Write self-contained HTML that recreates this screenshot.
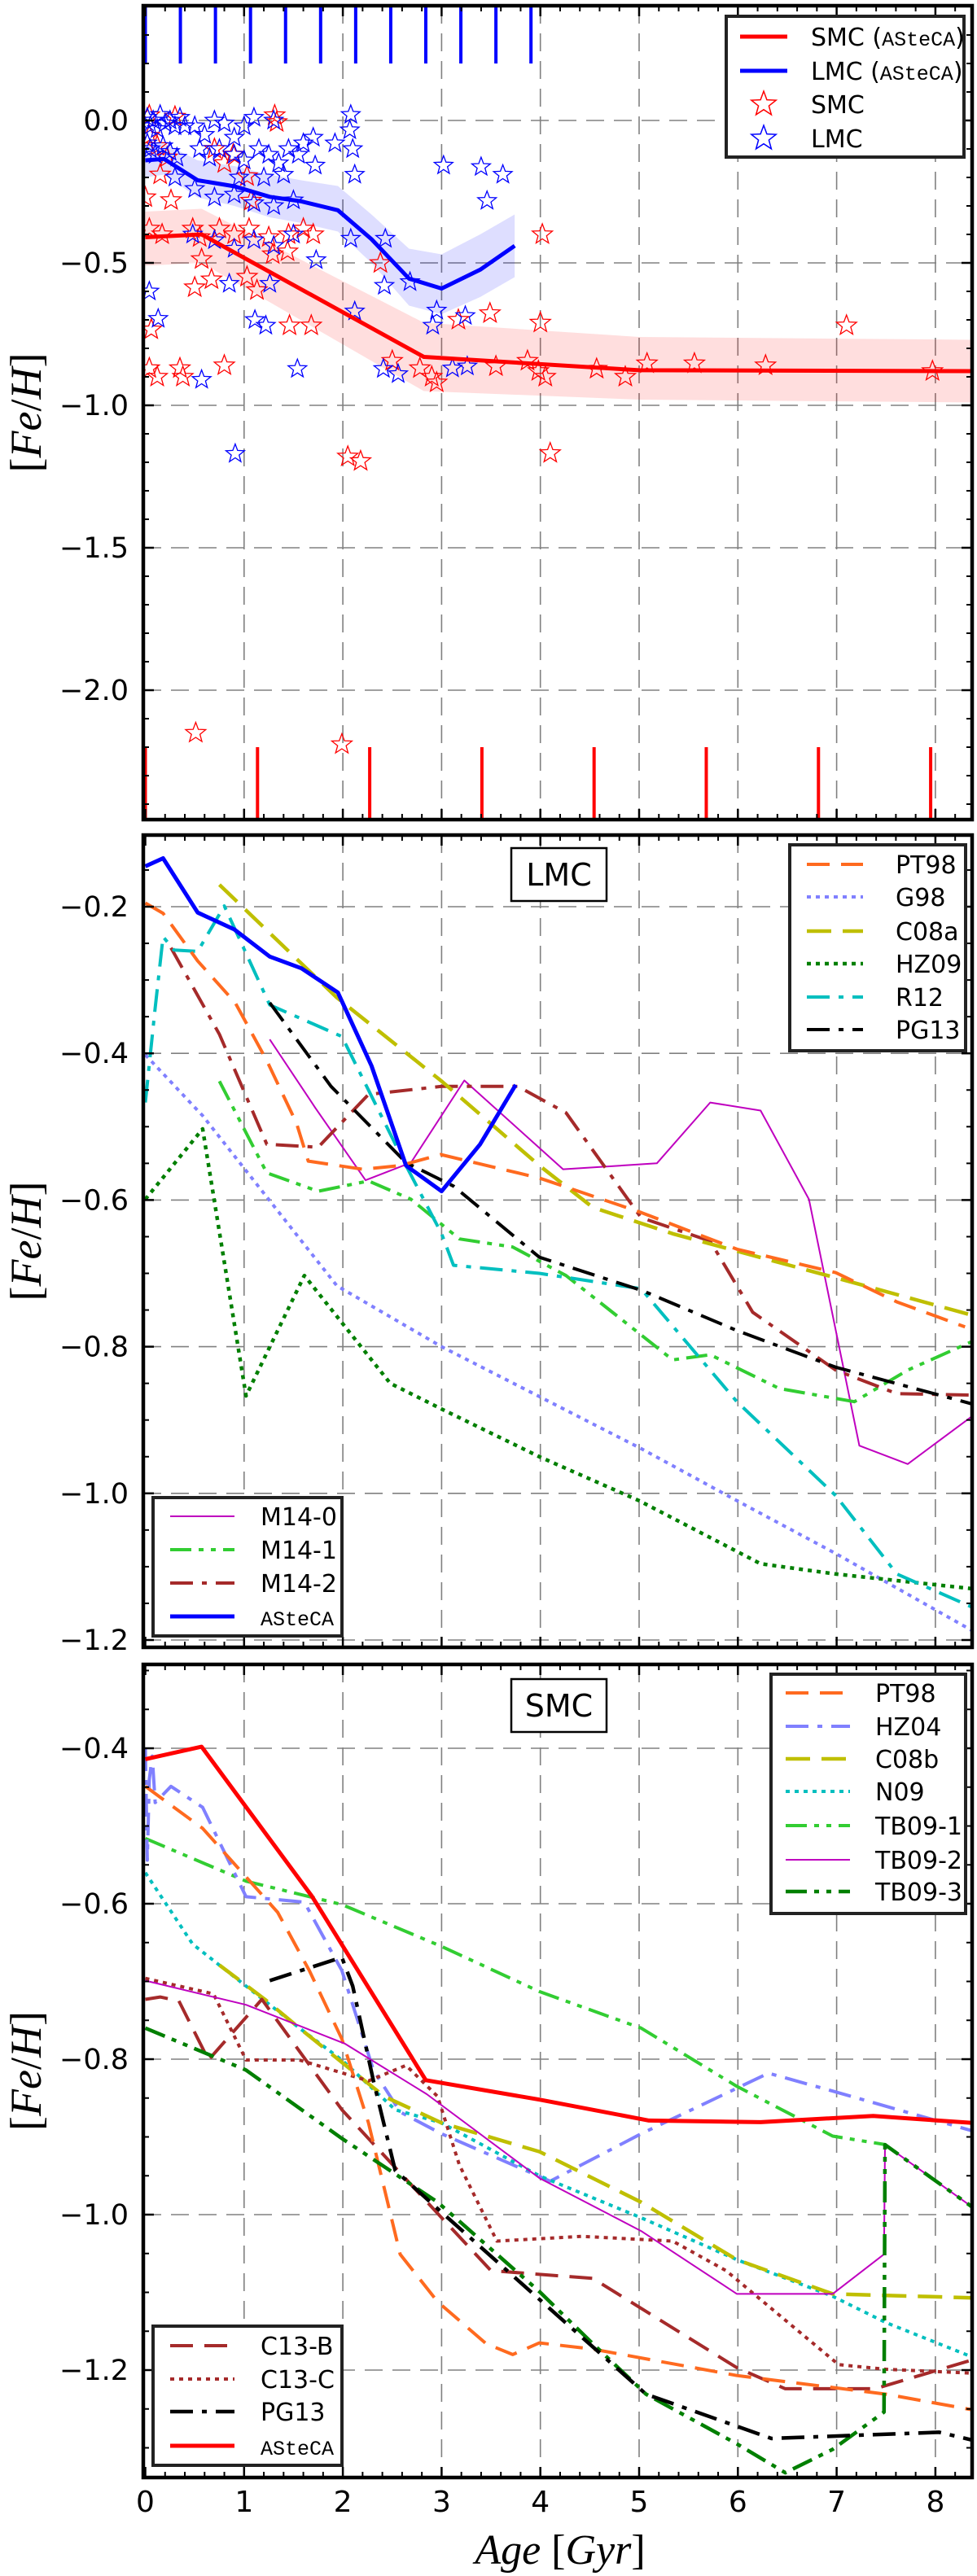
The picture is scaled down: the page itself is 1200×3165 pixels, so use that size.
<!DOCTYPE html>
<html><head><meta charset="utf-8">
<style>
html,body{margin:0;padding:0;background:#fff;}
svg{display:block;}
text{font-family:"DejaVu Sans","Liberation Sans",sans-serif;}
.mono{font-family:"Liberation Mono","DejaVu Sans Mono",monospace;}
.math{font-family:"Liberation Serif","DejaVu Serif",serif;}
</style></head>
<body>
<svg id="chart" xmlns="http://www.w3.org/2000/svg" width="1200" height="3165" viewBox="0 0 1200 3165">
<defs>
<clipPath id="clip1"><rect x="176" y="7" width="1018" height="1000"/></clipPath>
<clipPath id="clip2"><rect x="176" y="1026" width="1018" height="998"/></clipPath>
<clipPath id="clip3"><rect x="176" y="2045" width="1018" height="999"/></clipPath>
</defs>
</svg>
<script>
// ---------- Panel 1 data ----------
const smcAstecaAge=[0,0.57,2.82,5.0,8.4];
const smcAstecaFe=[-0.41,-0.40,-0.83,-0.877,-0.88];
const smcBandAge=[0,0.57,2.82,5.0,8.4];
const smcBandHi=[-0.32,-0.31,-0.71,-0.76,-0.77];
const smcBandLo=[-0.51,-0.50,-0.95,-0.98,-0.99];
const lmcAstecaAge=[0,0.19,0.53,0.9,1.26,1.58,1.95,2.29,2.67,3.0,3.39,3.74];
const lmcAstecaFe=[-0.14,-0.135,-0.21,-0.231,-0.268,-0.284,-0.315,-0.417,-0.555,-0.59,-0.524,-0.44];
const lmcBandHi=[-0.08,-0.08,-0.14,-0.16,-0.19,-0.21,-0.23,-0.33,-0.45,-0.47,-0.40,-0.33];
const lmcBandLo=[-0.20,-0.19,-0.27,-0.30,-0.34,-0.36,-0.39,-0.50,-0.65,-0.68,-0.62,-0.55];
const lmcStarAge=[0.02,0.05,0.08,0.12,0.15,0.2,0.25,0.3,0.35,0.4,0.05,0.1,0.18,0.25,0.32,0.02,
0.5,0.6,0.7,0.8,1.0,1.1,1.3,0.9,0.55,0.65,0.75,0.9,1.0,1.15,1.25,1.35,1.45,1.55,1.4,1.6,1.2,0.95,1.7,1.92,2.08,2.07,2.1,2.12,1.72,
3.02,3.4,3.62,3.46,0.3,0.5,0.7,0.9,1.1,1.3,1.5,0.48,0.7,0.9,1.1,1.3,1.5,1.73,2.08,2.43,2.42,2.68,0.04,0.13,0.85,1.26,1.11,1.22,
2.12,2.95,2.91,3.24,1.54,0.57,2.41,2.56,3.11,3.26,0.91];
const lmcStarFe=[0.01,-0.02,0.0,-0.03,0.02,-0.01,0.0,-0.02,0.01,-0.02,-0.1,-0.12,-0.09,-0.11,-0.13,-0.08,
-0.02,-0.05,0.0,-0.01,-0.02,0.01,0.0,-0.06,-0.1,-0.13,-0.1,-0.12,-0.14,-0.1,-0.12,-0.15,-0.1,-0.12,-0.19,-0.08,-0.2,-0.2,-0.06,-0.08,0.02,-0.034,-0.1,-0.19,-0.158,
-0.158,-0.163,-0.19,-0.282,-0.2,-0.24,-0.27,-0.26,-0.29,-0.3,-0.28,-0.4,-0.42,-0.45,-0.42,-0.44,-0.4,-0.49,-0.415,-0.415,-0.58,-0.567,-0.6,-0.696,-0.573,-0.573,-0.70,-0.72,
-0.67,-0.667,-0.72,-0.686,-0.872,-0.91,-0.872,-0.89,-0.87,-0.863,-1.17];
const smcStarAge=[1.31,1.33,0.04,0.3,0.04,0.12,0.22,0.7,0.8,0.89,0.0,0.15,0.26,1.03,1.07,
0.04,0.17,0.48,0.55,0.75,0.9,1.05,1.25,1.45,1.6,1.7,0.57,1.29,1.44,0.5,0.67,1.03,1.13,2.38,
4.02,4.0,3.49,3.17,0.06,1.46,1.68,0.04,0.12,0.35,0.38,0.8,2.5,2.78,2.9,2.95,3.55,3.87,3.98,4.05,4.57,4.86,5.08,5.56,6.28,7.1,7.97,
2.05,2.18,4.1,0.51,1.99];
const smcStarFe=[0.018,-0.006,0.018,0.013,-0.054,-0.09,-0.13,-0.1,-0.15,-0.12,-0.27,-0.19,-0.28,-0.196,-0.282,
-0.38,-0.4,-0.38,-0.41,-0.38,-0.4,-0.38,-0.41,-0.4,-0.38,-0.4,-0.487,-0.47,-0.46,-0.586,-0.558,-0.549,-0.596,-0.501,
-0.4,-0.71,-0.677,-0.7,-0.734,-0.72,-0.72,-0.87,-0.9,-0.87,-0.9,-0.86,-0.844,-0.87,-0.9,-0.92,-0.863,-0.844,-0.88,-0.9,-0.872,-0.9,-0.853,-0.853,-0.86,-0.72,-0.88,
-1.18,-1.196,-1.168,-2.15,-2.19];
const lmcRugAges=[0,0.355,0.71,1.065,1.42,1.775,2.13,2.485,2.84,3.195,3.55,3.905];
const smcRugAges=[0,1.136,2.272,3.408,4.544,5.68,6.816,7.952];

// ---------- Panel 2 (LMC) data ----------
const p2AstecaAge=[0,0.18,0.53,0.9,1.26,1.58,1.95,2.29,2.64,3.0,3.39,3.75];
const p2AstecaFe=[-0.145,-0.134,-0.208,-0.231,-0.268,-0.284,-0.317,-0.417,-0.553,-0.588,-0.524,-0.443];
const pt98LAge=[0,0.18,0.53,0.91,1.23,1.53,1.65,2.2,2.58,2.99,3.99,5.02,5.99,6.99,7.61,8.3];
const pt98LFe=[-0.195,-0.209,-0.274,-0.331,-0.41,-0.495,-0.547,-0.558,-0.553,-0.538,-0.57,-0.617,-0.667,-0.699,-0.739,-0.773];
const g98Age=[0,0.58,1.02,1.94,3.0,3.99,5.02,5.99,6.99,8.37];
const g98Fe=[-0.402,-0.485,-0.56,-0.717,-0.8,-0.868,-0.939,-1.01,-1.082,-1.187];
const c08aAge=[0.75,1.94,3.0,3.99,4.53,5.34,6.99,8.37];
const c08aFe=[-0.17,-0.324,-0.438,-0.553,-0.61,-0.646,-0.706,-0.757];
const hz09Age=[0,0.58,1.02,1.61,2.48,3.0,3.99,5.0,6.23,6.99,8.37];
const hz09Fe=[-0.599,-0.503,-0.867,-0.703,-0.85,-0.885,-0.95,-1.01,-1.096,-1.11,-1.13];
const r12Age=[0,0.1,0.18,0.29,0.53,0.8,1.26,1.99,2.64,3.0,3.12,3.99,5.02,5.99,6.99,7.61,8.37];
const r12Fe=[-0.467,-0.338,-0.241,-0.259,-0.261,-0.199,-0.334,-0.377,-0.553,-0.646,-0.689,-0.7,-0.721,-0.875,-1.003,-1.11,-1.155];
const pg13LAge=[1.26,1.88,2.64,3.12,3.99,5.04,5.99,6.99,8.37];
const pg13LFe=[-0.331,-0.445,-0.549,-0.581,-0.678,-0.724,-0.778,-0.828,-0.878];
const m140Age=[1.26,1.72,2.23,2.69,3.23,4.23,5.18,5.72,6.23,6.72,7.23,7.72,8.37];
const m140Fe=[-0.381,-0.474,-0.573,-0.549,-0.437,-0.558,-0.55,-0.467,-0.478,-0.599,-0.935,-0.96,-0.895];
const m141Age=[0.75,1.23,1.75,2.26,2.69,3.18,3.72,4.26,5.34,5.72,6.42,7.18,7.72,8.37];
const m141Fe=[-0.438,-0.563,-0.588,-0.574,-0.599,-0.653,-0.664,-0.703,-0.818,-0.811,-0.857,-0.875,-0.832,-0.793];
const m142Age=[0.26,0.75,1.23,1.75,2.26,3.0,3.77,4.26,5.02,5.72,6.15,6.99,7.61,8.37];
const m142Fe=[-0.256,-0.374,-0.524,-0.528,-0.456,-0.445,-0.445,-0.481,-0.624,-0.656,-0.753,-0.832,-0.864,-0.866];

// ---------- Panel 3 (SMC) data ----------
const p3AstecaAge=[0,0.57,1.69,2.84,3.99,5.1,6.23,7.37,8.37];
const p3AstecaFe=[-0.414,-0.398,-0.591,-0.827,-0.852,-0.879,-0.881,-0.873,-0.882];
const pt98SAge=[0,0.58,0.96,1.34,1.66,1.99,2.26,2.58,2.96,3.45,3.72,3.99,4.53,5.99,7.5,8.37];
const pt98SFe=[-0.449,-0.503,-0.557,-0.611,-0.686,-0.774,-0.882,-1.051,-1.112,-1.166,-1.18,-1.165,-1.173,-1.207,-1.231,-1.251];
const hz04Age=[0,0.02,0.04,0.07,0.1,0.26,0.58,1.02,1.61,1.99,2.31,2.58,3.0,4.1,5.02,6.31,6.96,8.37];
const hz04Fe=[-0.40,-0.544,-0.44,-0.41,-0.47,-0.449,-0.476,-0.591,-0.598,-0.686,-0.814,-0.868,-0.896,-0.957,-0.896,-0.818,-0.841,-0.892];
const c08bAge=[0.75,1.21,1.56,2.42,3.0,3.99,5.02,5.99,6.96,8.37];
const c08bFe=[-0.679,-0.723,-0.76,-0.848,-0.882,-0.919,-0.984,-1.058,-1.102,-1.107];
const n09Age=[0,0.48,1.02,1.56,1.99,2.53,3.0,3.99,5.02,5.99,6.96,7.5,8.37];
const n09Fe=[-0.56,-0.652,-0.706,-0.76,-0.801,-0.865,-0.882,-0.95,-1.004,-1.058,-1.105,-1.139,-1.183];
const tb091Age=[0,1.02,1.99,3.0,3.99,5.02,5.99,6.96,7.5];
const tb091Fe=[-0.516,-0.571,-0.601,-0.655,-0.713,-0.76,-0.835,-0.899,-0.91];
const tb092Age=[0,1.02,2.02,2.85,3.99,5.02,5.99,6.96,7.48,7.49,8.37];
const tb092Fe=[-0.699,-0.73,-0.78,-0.845,-0.953,-1.021,-1.102,-1.102,-1.051,-0.91,-0.99];
const tb093Age=[0,1.02,1.99,2.96,3.99,4.53,5.07,5.99,6.48,6.96,7.48,7.49,8.37];
const tb093Fe=[-0.76,-0.814,-0.902,-0.984,-1.099,-1.166,-1.231,-1.295,-1.332,-1.302,-1.254,-0.91,-0.99];
const pg13SAge=[1.26,1.99,2.1,2.31,2.53,3.0,3.99,5.07,6.34,6.96,8.04,8.37];
const pg13SFe=[-0.699,-0.669,-0.706,-0.828,-0.943,-0.997,-1.109,-1.231,-1.288,-1.285,-1.28,-1.29];
const c13bAge=[0,0.15,0.34,0.64,1.18,1.99,3.0,3.5,4.53,5.99,6.48,7.39,8.37];
const c13bFe=[-0.723,-0.72,-0.725,-0.801,-0.723,-0.865,-1.004,-1.072,-1.082,-1.197,-1.224,-1.224,-1.187];
const c13cAge=[0,0.69,1.02,1.56,2.26,2.64,2.96,3.18,3.56,4.42,5.34,5.88,7.02,7.5,8.37];
const c13cFe=[-0.696,-0.716,-0.801,-0.801,-0.828,-0.808,-0.848,-0.936,-1.034,-1.028,-1.034,-1.072,-1.193,-1.199,-1.204];

const xTickLabels=["0","1","2","3","4","5","6","7","8"];
const p1YTicks=[0.0,-0.5,-1.0,-1.5,-2.0];
const p2YTicks=[-0.2,-0.4,-0.6,-0.8,-1.0,-1.2];
const p3YTicks=[-0.4,-0.6,-0.8,-1.0,-1.2];

// ---------- rendering ----------
const NS='http://www.w3.org/2000/svg';
const svg=document.getElementById('chart');
function mk(tag,attrs,parent){const e=document.createElementNS(NS,tag);for(const k in attrs)e.setAttribute(k,attrs[k]);(parent||svg).appendChild(e);return e;}
const X=v=>178.5+v*121.3;
const L=176,R=1194;
const panels=[
 {top:7,bottom:1007,y:v=>148-v*350,vmin:-2.454,vmax:0.403,minor:0.1,ticks:p1YTicks,clip:'clip1'},
 {top:1026,bottom:2024,y:v=>1114-(v+0.2)*901,vmin:-1.21,vmax:-0.102,minor:0.05,ticks:p2YTicks,clip:'clip2'},
 {top:2045,bottom:3044,y:v=>2148-(v+0.4)*955,vmin:-1.338,vmax:-0.292,minor:0.05,ticks:p3YTicks,clip:'clip3'}
];
function fmt(v){let s=v.toFixed(1);if(v<0)s='\u2212'+s.slice(1);if(Math.abs(v)<1e-9)s='0.0';return s;}
function pathD(ages,fes,y){return ages.map((a,i)=>(i?'L':'M')+X(a).toFixed(1)+','+y(fes[i]).toFixed(1)).join(' ');}

panels.forEach((p,pi)=>{
  const g=mk('g',{});
  
  
  const grid=mk('g',{stroke:'#808080','stroke-width':1.6,'stroke-dasharray':'22,12'},g);
  
  
  for(let k=1;k<=8;k++){mk('line',{x1:X(k),x2:X(k),y1:p.top,y2:p.bottom},grid);}
  p.ticks.forEach(t=>{mk('line',{x1:L,x2:R,y1:p.y(t),y2:p.y(t)},grid);});
  p.g=g;
});

function series(p,ages,fes,color,width,dash,name){
  const e=mk('path',{d:pathD(ages,fes,p.y),fill:'none',stroke:color,'stroke-width':width,'stroke-linejoin':'round','clip-path':'url(#'+p.clip+')'},p.g);
  if(dash)e.setAttribute('stroke-dasharray',dash);
  
  
  return e;
}
function band(p,ages,hi,lo,color,name){
  const pts=ages.map((a,i)=>X(a)+','+p.y(hi[i])).concat(ages.slice().reverse().map((a,i)=>X(a)+','+p.y(lo[ages.length-1-i])));
  const e=mk('polygon',{points:pts.join(' '),fill:color,stroke:'none','clip-path':'url(#'+p.clip+')'},p.g);
  
  
}
function starPts(cx,cy,r){let s=[];for(let i=0;i<10;i++){const rr=i%2?r*0.42:r;const a=-Math.PI/2+i*Math.PI/5;s.push((cx+rr*Math.cos(a)).toFixed(1)+','+(cy+rr*Math.sin(a)).toFixed(1));}return s.join(' ');}

const DASH='28,14', DOT='5,6', DD='28,11,6,11', DDD='26,9,6,9,6,9';
// Panel 1
const P1=panels[0];
band(P1,smcBandAge,smcBandHi,smcBandLo,'rgba(255,0,0,0.13)','smc-uncertainty-band');
band(P1,lmcAstecaAge,lmcBandHi,lmcBandLo,'rgba(0,0,255,0.13)','lmc-uncertainty-band');
const sg=mk('g',{fill:'none','stroke-width':1.3,'clip-path':'url(#clip1)'},P1.g);


smcStarAge.forEach((a,i)=>{const s=mk('polygon',{points:starPts(X(a),P1.y(smcStarFe[i]),13),stroke:'#ff0000'},sg);

});
lmcStarAge.forEach((a,i)=>{const s=mk('polygon',{points:starPts(X(a),P1.y(lmcStarFe[i]),12),stroke:'#0000ff'},sg);

});
series(P1,smcAstecaAge,smcAstecaFe,'#ff0000',5,null,'smc-asteca-line');
series(P1,lmcAstecaAge,lmcAstecaFe,'#0000ff',5,null,'lmc-asteca-line');
lmcRugAges.forEach(a=>{const r=mk('line',{x1:X(a),x2:X(a),y1:P1.y(0.40),y2:P1.y(0.2),stroke:'#0000ff','stroke-width':4,'clip-path':'url(#clip1)'},P1.g);

});
smcRugAges.forEach(a=>{const r=mk('line',{x1:X(a),x2:X(a),y1:P1.y(-2.2),y2:P1.y(-2.46),stroke:'#ff0000','stroke-width':4,'clip-path':'url(#clip1)'},P1.g);

});

// Panel 2
const P2=panels[1];
series(P2,g98Age,g98Fe,'#8080ff',4,DOT,'g98-line');
series(P2,hz09Age,hz09Fe,'#007f00',4.5,DOT,'hz09-line');
series(P2,m140Age,m140Fe,'#bf00bf',2,null,'m14-0-line');
series(P2,m141Age,m141Fe,'#32cd32',4,DDD,'m14-1-line');
series(P2,m142Age,m142Fe,'#a52a2a',4,DD,'m14-2-line');
series(P2,r12Age,r12Fe,'#00bfbf',4,DD,'r12-line');
series(P2,pg13LAge,pg13LFe,'#000000',4,DD,'pg13-line');
series(P2,c08aAge,c08aFe,'#bfbf00',4.5,'30,14','c08a-line');
series(P2,pt98LAge,pt98LFe,'#ff6a1f',4,DASH,'pt98-line');
series(P2,p2AstecaAge,p2AstecaFe,'#0000ff',5,null,'asteca-line');

// Panel 3
const P3=panels[2];
series(P3,tb091Age,tb091Fe,'#32cd32',4,DDD,'tb09-1-line');
series(P3,hz04Age,hz04Fe,'#8080ff',4,DD,'hz04-line');
series(P3,n09Age,n09Fe,'#00bfbf',4,DOT,'n09-line');
series(P3,c08bAge,c08bFe,'#bfbf00',4.5,'30,14','c08b-line');
series(P3,c13cAge,c13cFe,'#a52a2a',4,DOT,'c13-c-line');
series(P3,c13bAge,c13bFe,'#a52a2a',4,DASH,'c13-b-line');
series(P3,pt98SAge,pt98SFe,'#ff6a1f',4,DASH,'pt98-line');
series(P3,tb092Age,tb092Fe,'#bf00bf',2,null,'tb09-2-line');
series(P3,tb093Age,tb093Fe,'#007f00',4.5,DDD,'tb09-3-line');
series(P3,pg13SAge,pg13SFe,'#000000',4.5,DD,'pg13-line');
series(P3,p3AstecaAge,p3AstecaFe,'#ff0000',5,null,'asteca-line');

// Frames, ticks, labels
panels.forEach((p,pi)=>{
  const tg=mk('g',{stroke:'#000'},p.g);
  
  
  for(let k=0;k<=42;k++){const v=k*0.2;if(v>8.37)break;const maj=k%5===0;const len=maj?13:7;const w=maj?2.5:2;
    mk('line',{x1:X(v),x2:X(v),y1:p.bottom,y2:p.bottom-len,'stroke-width':w},tg);
    mk('line',{x1:X(v),x2:X(v),y1:p.top,y2:p.top+len,'stroke-width':w},tg);}
  const n0=Math.ceil(p.vmin/p.minor-1e-6), n1=Math.floor(p.vmax/p.minor+1e-6);
  for(let n=n0;n<=n1;n++){const v=n*p.minor;const maj=p.ticks.some(t=>Math.abs(t-v)<1e-6);const len=maj?13:7;const w=maj?2.5:2;
    mk('line',{x1:L,x2:L+len,y1:p.y(v),y2:p.y(v),'stroke-width':w},tg);
    mk('line',{x1:R,x2:R-len,y1:p.y(v),y2:p.y(v),'stroke-width':w},tg);}
  const fr=mk('rect',{x:L,y:p.top,width:R-L,height:p.bottom-p.top,fill:'none',stroke:'#000','stroke-width':4.5},p.g);
  
  
  const lg=mk('g',{'font-size':35,'text-anchor':'end',fill:'#000'},p.g);
  
  
  p.ticks.forEach(t=>{const tx=mk('text',{x:158,y:p.y(t)+12},lg);tx.textContent=fmt(t);});
  const yt=mk('text',{x:0,y:0,'font-size':54,'text-anchor':'middle',class:'math',transform:'translate(50,'+((p.top+p.bottom)/2)+') rotate(-90)'},p.g);
  
  
  yt.innerHTML='[<tspan font-style="italic">Fe</tspan>/<tspan font-style="italic">H</tspan>]';
});
const xl=mk('g',{'font-size':36,'text-anchor':'middle'});


xTickLabels.forEach((s,i)=>{const t=mk('text',{x:X(i),y:3086},xl);t.textContent=s;});
const xt=mk('text',{x:688,y:3150,'font-size':52,'text-anchor':'middle',class:'math'});


xt.innerHTML='<tspan font-style="italic">Age</tspan> [<tspan font-style="italic">Gyr</tspan>]';

// Legends
function legend(name,x,y,w,h,rows,lineX,lineW,textX,rowY){
  const g=mk('g',{});
  
  
  mk('rect',{x:x,y:y,width:w,height:h,fill:'#fff',stroke:'#222','stroke-width':4},g);
  rows.forEach((r,i)=>{
    const ry=rowY[i];
    if(r.star){mk('polygon',{points:starPts(lineX+lineW/2,ry,16),fill:'none',stroke:r.color,'stroke-width':1.5},g);}
    else{const ln=mk('line',{x1:lineX,x2:lineX+lineW,y1:ry,y2:ry,stroke:r.color,'stroke-width':r.w},g);if(r.dash)ln.setAttribute('stroke-dasharray',r.dash);}
    const t=mk('text',{x:textX,y:ry+11,'font-size':r.mono?25:30},g);
    if(r.mono)t.setAttribute('class','mono');
    t.innerHTML=r.html;
    
    
  });
}
legend('legend-panel-1',892,20,292,173,[
 {color:'#ff0000',w:5,html:'SMC (<tspan class="mono" font-size="25">ASteCA</tspan>)'},
 {color:'#0000ff',w:5,html:'LMC (<tspan class="mono" font-size="25">ASteCA</tspan>)'},
 {color:'#ff0000',star:1,html:'SMC'},
 {color:'#0000ff',star:1,html:'LMC'}],909,58,996,[45,87,128,170]);
legend('legend-lmc-main',970,1038,216,253,[
 {color:'#ff6a1f',w:4,dash:DASH,html:'PT98'},
 {color:'#8080ff',w:4,dash:DOT,html:'G98'},
 {color:'#bfbf00',w:4.5,dash:'30,14',html:'C08a'},
 {color:'#007f00',w:4.5,dash:DOT,html:'HZ09'},
 {color:'#00bfbf',w:4,dash:DD,html:'R12'},
 {color:'#000',w:4,dash:DD,html:'PG13'}],991,69,1100,[1062,1102,1144,1184,1225,1265]);
legend('legend-lmc-secondary',188,1840,232,170,[
 {color:'#bf00bf',w:2,html:'M14-0'},
 {color:'#32cd32',w:4,dash:DDD,html:'M14-1'},
 {color:'#a52a2a',w:4,dash:DD,html:'M14-2'},
 {color:'#0000ff',w:5,mono:1,html:'ASteCA'}],209,79,320,[1863,1904,1945,1986]);
legend('legend-smc-main',947,2057,239,294,[
 {color:'#ff6a1f',w:4,dash:DASH,html:'PT98'},
 {color:'#8080ff',w:4,dash:DD,html:'HZ04'},
 {color:'#bfbf00',w:4.5,dash:'30,14',html:'C08b'},
 {color:'#00bfbf',w:4,dash:DOT,html:'N09'},
 {color:'#32cd32',w:4,dash:DDD,html:'TB09-1'},
 {color:'#bf00bf',w:2,html:'TB09-2'},
 {color:'#007f00',w:4.5,dash:DDD,html:'TB09-3'}],965,79,1075,[2080,2121,2161,2201,2243,2285,2324]);
legend('legend-smc-secondary',188,2858,232,171,[
 {color:'#a52a2a',w:4,dash:DASH,html:'C13-B'},
 {color:'#a52a2a',w:4,dash:DOT,html:'C13-C'},
 {color:'#000',w:4.5,dash:DD,html:'PG13'},
 {color:'#ff0000',w:5,mono:1,html:'ASteCA'}],209,79,320,[2882,2923,2963,3005]);

// Panel title boxes
[[628,1042,'LMC','lmc-title'],[628,2063,'SMC','smc-title']].forEach(b=>{
  const g=mk('g',{});
  
  
  mk('rect',{x:b[0],y:b[1],width:117,height:65,fill:'#fff',stroke:'#000','stroke-width':2.5},g);
  const t=mk('text',{x:b[0]+58.5,y:b[1]+46,'font-size':38,'text-anchor':'middle'},g);
  t.textContent=b[2];
});
</script>
</body></html>
